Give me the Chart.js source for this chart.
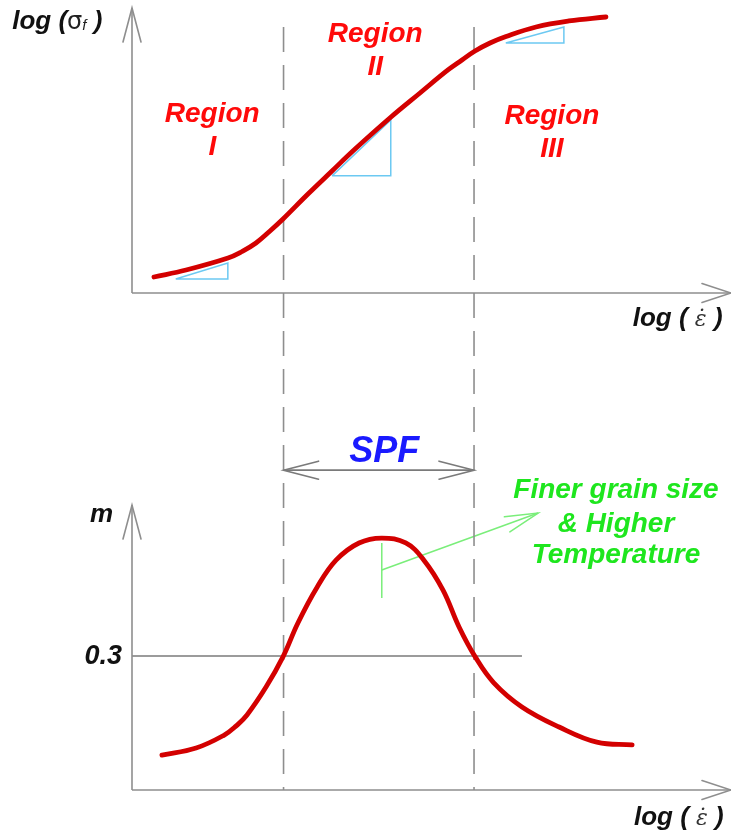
<!DOCTYPE html>
<html><head><meta charset="utf-8">
<script src="https://cdn.jsdelivr.net/npm/chart.js@4.4.1/dist/chart.umd.min.js"></script>
<style>html,body{margin:0;padding:0;background:#fff;}canvas{display:block;}</style>
</head><body>
<canvas id="c" width="731" height="834"></canvas>
<script>
// ---- data (arbitrary schematic units) ----
const logStrainRate = [0.367,0.902,1.603,1.837,2.070,2.304,2.521,2.938,3.339,3.706,4.324,4.808,5.275,5.509,5.726,5.977,6.244,6.745,7.295,7.913];
const logFlowStress = [0.561,0.807,1.228,1.456,1.754,2.175,2.596,3.474,4.281,5.018,6.175,7.018,7.825,8.175,8.491,8.772,9.000,9.333,9.544,9.684];
const mStrainRate = [0.50,1.07,1.54,1.736,1.92,2.24,2.52,2.77,3.09,3.41,3.79,4.17,4.57,4.87,5.19,5.46,5.73,6.04,6.51,7.13,7.76,8.35];
const mValues = [0.078,0.094,0.123,0.143,0.168,0.231,0.298,0.374,0.454,0.515,0.553,0.564,0.553,0.515,0.448,0.365,0.298,0.240,0.186,0.141,0.107,0.101];
const regionBounds = [2.53, 5.71];
const regionNames = [['Region','I'],['Region','II'],['Region','III']];
const mTickValues = [0.3];
const mTickLabels = ['0.3'];
// slope triangles: [xLeft, xRight, yLow, yHigh]
const slopeTriangles = [[0.73,1.60,0.49,1.05],[3.34,4.32,4.11,6.07],[6.24,7.21,8.77,9.33]];

// ---- styling ----
const RED='#d30000', GREY='#8e8e8e', CYAN='#6cc9f2', GREEN='#1ee61e', GREENL='#7aee7a', BLUE='#1a1aff';
const FONT='"Liberation Sans", Arial, sans-serif';
const BI = s => `italic bold ${s}px ${FONT}`;
const Y_TOP_MIN = -17.44, M_MAX = 1.7506;

const pts = (xs, ys) => xs.map((x,i)=>({x, y: ys[i]}));
const seg = (x0,y0,x1,y1) => [{x:x0,y:y0},{x:x1,y:y1}];

const datasets = [
  {data: pts(logStrainRate, logFlowStress), yAxisID:'y', borderColor:RED, borderWidth:4.8, tension:0.4, borderCapStyle:'round'},
  {data: pts(mStrainRate, mValues), yAxisID:'m', borderColor:RED, borderWidth:4.8, tension:0.4, borderCapStyle:'round'},
  ...slopeTriangles.map(t=>({data:[{x:t[0],y:t[2]},{x:t[1],y:t[2]},{x:t[1],y:t[3]},{x:t[0],y:t[2]}], yAxisID:'y', borderColor:CYAN, borderWidth:1.5})),
  {data: seg(0,0,0,10), yAxisID:'y', borderColor:GREY, borderWidth:1.6, arrow:'end', aLen:34, aHalf:9},
  {data: seg(0,0,10,0), yAxisID:'y', borderColor:GREY, borderWidth:1.6, arrow:'end', aLen:29, aHalf:9.5},
  {data: seg(0,0,0,0.638), yAxisID:'m', borderColor:GREY, borderWidth:1.6, arrow:'end', aLen:34, aHalf:9},
  {data: seg(0,0,10,0), yAxisID:'m', borderColor:GREY, borderWidth:1.6, arrow:'end', aLen:29, aHalf:9.5},
  ...mTickValues.map(v=>({data: seg(0,v,6.51,v), yAxisID:'m', borderColor:'#7a7a7a', borderWidth:1.6})),
  ...regionBounds.map(b=>({data: seg(b,9.33,b,Y_TOP_MIN), yAxisID:'y', borderColor:GREY, borderWidth:1.6, borderDash:[25,13]})),
  {data: seg(regionBounds[0],0.716,regionBounds[1],0.716), yAxisID:'m', borderColor:'#7a7a7a', borderWidth:1.6, arrow:'both', aLen:35, aHalf:9},
  {data: seg(4.17,0.553,4.17,0.430), yAxisID:'m', borderColor:GREENL, borderWidth:1.5},
  {data: seg(4.17,0.4925,6.78,0.620), yAxisID:'m', borderColor:GREENL, borderWidth:1.5, arrow:'end', aLen:33, aHalf:8},
].map(d=>Object.assign({tension:0, fill:false, clip:false, pointRadius:0}, d));

function arrowHead(ctx, tip, from, len, half, color, w){
  const dx = from.x - tip.x, dy = from.y - tip.y, L = Math.hypot(dx,dy);
  const ux = dx/L, uy = dy/L, px = -uy, py = ux;
  ctx.save(); ctx.strokeStyle=color; ctx.lineWidth=w; ctx.lineCap='round';
  ctx.beginPath();
  ctx.moveTo(tip.x+ux*len+px*half, tip.y+uy*len+py*half);
  ctx.lineTo(tip.x, tip.y);
  ctx.lineTo(tip.x+ux*len-px*half, tip.y+uy*len-py*half);
  ctx.stroke(); ctx.restore();
}

const arrowPlugin = {
  id:'arrows',
  afterDatasetsDraw(chart){
    const ctx = chart.ctx;
    chart.data.datasets.forEach((ds,i)=>{
      if(!ds.arrow) return;
      const p = chart.getDatasetMeta(i).data;
      const a = p[0], b = p[p.length-1];
      arrowHead(ctx, b, a, ds.aLen, ds.aHalf, ds.borderColor, ds.borderWidth);
      if(ds.arrow==='both') arrowHead(ctx, a, b, ds.aLen, ds.aHalf, ds.borderColor, ds.borderWidth);
    });
  }
};

function drawRuns(ctx, x, y, runs, align){
  let total=0;
  runs.forEach(r=>{ctx.font=r.font; r.w=ctx.measureText(r.t).width; total+=r.w;});
  let cx = align==='center' ? x-total/2 : align==='right' ? x-total : x;
  ctx.textBaseline='alphabetic'; ctx.textAlign='left';
  runs.forEach(r=>{ctx.font=r.font; ctx.fillStyle=r.color; ctx.fillText(r.t, cx, y+(r.dy||0)); cx+=r.w;});
}

const textPlugin = {
  id:'texts',
  afterDraw(chart){
    const ctx = chart.ctx, X = chart.scales.x, Y = chart.scales.y, M = chart.scales.m;
    const lineGap = 33;
    // Region labels
    const regionPos = [[1.34,6.00],[4.06,8.81],[7.01,5.93]];
    regionNames.forEach((lines,i)=>{
      const px = X.getPixelForValue(regionPos[i][0]), py = Y.getPixelForValue(regionPos[i][1]);
      lines.forEach((t,j)=>drawRuns(ctx, px, py+j*lineGap, [{t, font:BI(28), color:'#ff0a0a'}], 'center'));
    });
    // axis titles
    drawRuns(ctx, X.getPixelForValue(-2.0), Y.getPixelForValue(9.26), [
      {t:'log (', font:BI(26), color:'#111'},
      {t:'σ', font:`24px "DejaVu Sans", sans-serif`, color:'#222'},
      {t:'f', font:`italic 15px ${FONT}`, color:'#222', dy:1},
      {t:' )', font:BI(26), color:'#111'}], 'left');
    const epsRuns = [
      {t:'log ( ', font:BI(26), color:'#111'},
      {t:'\u03B5\u0307', font:`italic 22px "DejaVu Serif", serif`, color:'#333'},
      {t:' )', font:BI(26), color:'#111'}];
    drawRuns(ctx, X.getPixelForValue(8.36), Y.getPixelForValue(-1.158), epsRuns, 'left');
    drawRuns(ctx, X.getPixelForValue(8.38), M.getPixelForValue(-0.078), epsRuns, 'left');
    drawRuns(ctx, X.getPixelForValue(-0.317), M.getPixelForValue(0.600), [{t:'m', font:BI(26), color:'#111'}], 'right');
    mTickValues.forEach((v,i)=>drawRuns(ctx, X.getPixelForValue(-0.167), M.getPixelForValue(v)+8, [{t:mTickLabels[i], font:BI(27), color:'#111'}], 'right'));
    // SPF
    drawRuns(ctx, X.getPixelForValue(4.21), M.getPixelForValue(0.734), [{t:'SPF', font:BI(36), color:BLUE}], 'center');
    // green note
    const gx = X.getPixelForValue(8.08);
    [['Finer grain size',0.654],['& Higher',0.578],['Temperature',0.508]].forEach(([t,v])=>
      drawRuns(ctx, gx, M.getPixelForValue(v), [{t, font:BI(28), color:GREEN}], 'center'));
  }
};

new Chart(document.getElementById('c'), {
  type:'line',
  data:{datasets},
  options:{
    responsive:false, animation:false, devicePixelRatio:1,
    layout:{padding:{left:132, right:0, top:8, bottom:44}},
    plugins:{legend:{display:false}, tooltip:{enabled:false}, title:{display:false}},
    elements:{point:{radius:0}},
    scales:{
      x:{type:'linear', min:0, max:10, display:false},
      y:{type:'linear', min:Y_TOP_MIN, max:10, display:false},
      m:{type:'linear', min:0, max:M_MAX, display:false, position:'right'}
    }
  },
  plugins:[arrowPlugin, textPlugin]
});
</script>
</body></html>
